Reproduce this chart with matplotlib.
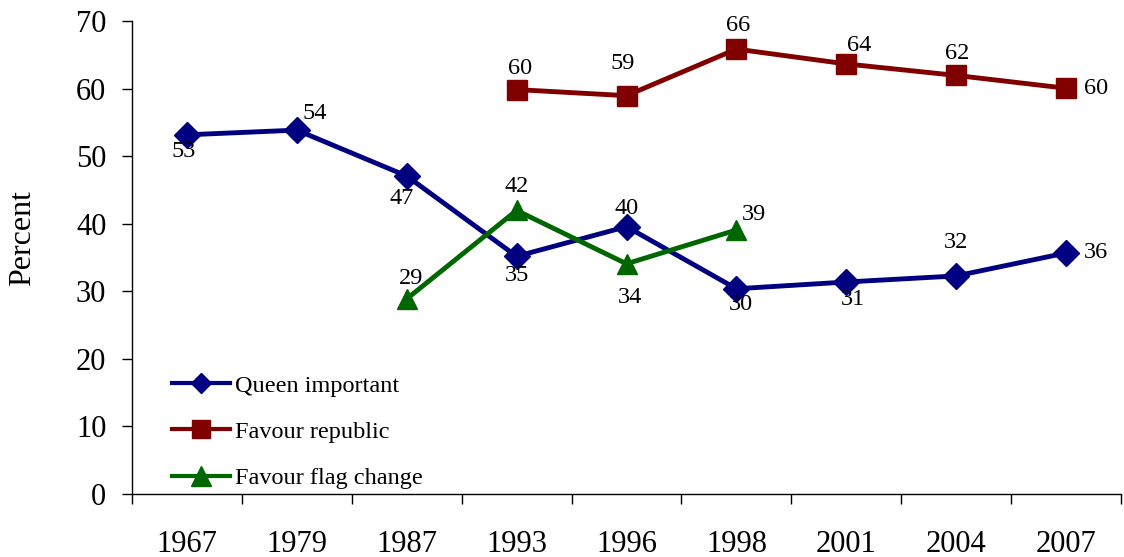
import matplotlib
matplotlib.use("Agg")
import matplotlib.pyplot as plt
import numpy as np

years = ["1967", "1979", "1987", "1993", "1996", "1998", "2001", "2004", "2007"]
queen_important = [53.2, 53.9, 47.1, 35.2, 39.6, 30.4, 31.4, 32.3, 35.7]
favour_republic = [None, None, None, 59.9, 59.0, 65.9, 63.7, 62.0, 60.1]
favour_flag_change = [None, None, 28.9, 42.0, 34.1, 39.1, None, None, None]

series_names = ["Queen important", "Favour republic", "Favour flag change"]
colors = ["#000080", "#800000", "#006600"]
markers = ["D", "s", "^"]
msizes = [13, 14.5, 15]
legend_msizes = [10, 12.5, 14]

# label offsets in pixels (dx, dy up positive)
offsets = [
    [(-3, -17), (18, 17), (-5, -22), (0, -19), (0, 18), (4, -16), (7, -17), (0, 33), (30, 0)],
    [None, None, None, (3, 21), (-4, 32), (2, 24), (13, 18), (1, 22), (30, 0)],
    [None, None, (4, 20), (0, 24), (3, -34), (18, 16), None, None, None],
]

plt.rcParams["font.family"] = ["Liberation Serif", "DejaVu Serif"]

fig = plt.figure(figsize=(11.24, 5.57), dpi=100)
ax = fig.add_axes([132 / 1124, 1 - 494 / 557, 989 / 1124, (494 - 21.4) / 557])

x = np.arange(len(years))
all_series = [queen_important, favour_republic, favour_flag_change]
for name, vals, c, m, ms, offs in zip(series_names, all_series, colors, markers, msizes, offsets):
    xs = [xi for xi, v in zip(x, vals) if v is not None]
    ys = [v for v in vals if v is not None]
    ax.plot(xs, ys, color=c, marker=m, markersize=ms, linewidth=3.5, label=name,
            markeredgecolor=c, markerfacecolor=c, clip_on=False, zorder=3)
    for xi, v, o in zip(x, vals, offs):
        if v is None:
            continue
        ax.annotate(f"{v:.0f}", (xi, v), xytext=o, textcoords="offset pixels",
                    ha="center", va="center", fontsize=17.5, color="black", zorder=4)

ax.set_xlim(-0.5, len(years) - 0.5)
ax.set_ylim(0, 70)
ax.set_yticks(np.arange(0, 71, 10))
ax.tick_params(axis="y", labelsize=22, length=7.5, width=1, pad=11, direction="out")

ax.set_xticks(np.arange(-0.5, len(years) - 0.4, 1.0))
ax.set_xticklabels([])
ax.tick_params(axis="x", which="major", length=7.5, width=1, direction="out")
ax.set_xticks(x, minor=True)
ax.set_xticklabels(years, minor=True)
ax.tick_params(axis="x", which="minor", length=0, labelsize=22, pad=26)

for s in ["top", "right"]:
    ax.spines[s].set_visible(False)
for s in ["left", "bottom"]:
    ax.spines[s].set_linewidth(1)
    ax.spines[s].set_color("black")

fig.text(23 / 1124, 1 - 237.5 / 557, "Percent", rotation=90, ha="center", va="center", fontsize=23)

leg = ax.legend(loc="lower left", bbox_to_anchor=(0.04, 0.01), frameon=False,
                fontsize=17.5, handlelength=2.4, handletextpad=0.2, labelspacing=1.0,
                borderpad=0, borderaxespad=0)
for h, lms in zip(leg.legend_handles, legend_msizes):
    h.set_markersize(lms)
    h.set_linewidth(3)

fig.savefig("out.png", dpi=100)
